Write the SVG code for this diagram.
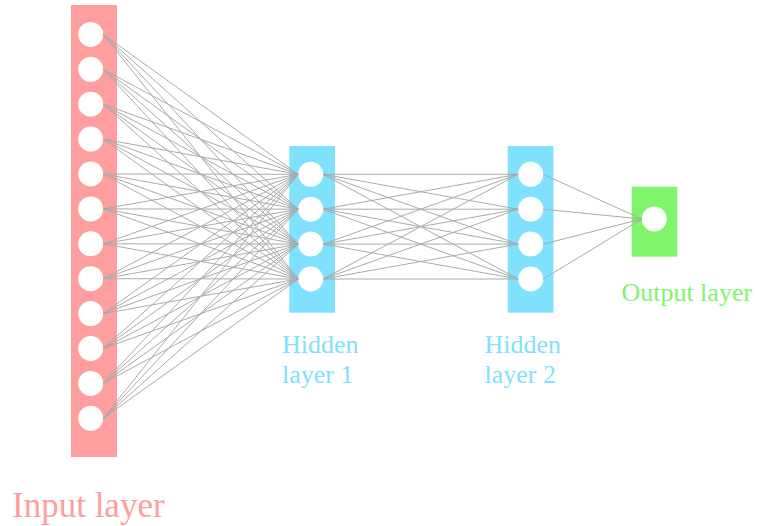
<svg xmlns="http://www.w3.org/2000/svg" width="757" height="526" viewBox="0 0 757 526">
<style>
.node{fill:#fff}
.in{fill:#ff9e9e}
.hid{fill:#80e1ff}
.out{fill:#80f56b}
.lbl{font-family:"Liberation Serif","Times New Roman",serif}
#connectors line{stroke:#aaaaaa;stroke-width:1}
</style>
<rect width="757" height="526" fill="#fff"/>
<g id="input-layer">
<rect class="in" x="71" y="5" width="46" height="452"/>
<circle class="node" cx="90.7" cy="34.4" r="12.5"/>
<circle class="node" cx="90.7" cy="69.3" r="12.5"/>
<circle class="node" cx="90.7" cy="104.2" r="12.5"/>
<circle class="node" cx="90.7" cy="139.1" r="12.5"/>
<circle class="node" cx="90.7" cy="174.0" r="12.5"/>
<circle class="node" cx="90.7" cy="208.9" r="12.5"/>
<circle class="node" cx="90.7" cy="243.8" r="12.5"/>
<circle class="node" cx="90.7" cy="278.7" r="12.5"/>
<circle class="node" cx="90.7" cy="313.6" r="12.5"/>
<circle class="node" cx="90.7" cy="348.5" r="12.5"/>
<circle class="node" cx="90.7" cy="383.4" r="12.5"/>
<circle class="node" cx="90.7" cy="418.3" r="12.5"/>
<text class="lbl" x="12" y="516.7" font-size="35" fill="#ff9e9e">Input layer</text>
</g>
<g id="hidden-layer-1">
<rect class="hid" x="289.3" y="146" width="45.7" height="166.7"/>
<circle class="node" cx="310.7" cy="174.3" r="12.5"/>
<circle class="node" cx="310.7" cy="209.2" r="12.5"/>
<circle class="node" cx="310.7" cy="244.1" r="12.5"/>
<circle class="node" cx="310.7" cy="279.0" r="12.5"/>
<text class="lbl" font-size="26" fill="#80e1ff"><tspan x="282" y="353.3">Hidden</tspan><tspan x="282" y="383.3">layer 1</tspan></text>
</g>
<g id="hidden-layer-2">
<rect class="hid" x="507.7" y="146" width="45.7" height="166.7"/>
<circle class="node" cx="530.7" cy="174.3" r="12.5"/>
<circle class="node" cx="530.7" cy="209.2" r="12.5"/>
<circle class="node" cx="530.7" cy="244.1" r="12.5"/>
<circle class="node" cx="530.7" cy="279.0" r="12.5"/>
<text class="lbl" font-size="26" fill="#80e1ff"><tspan x="484.5" y="353.3">Hidden</tspan><tspan x="484.5" y="383.3">layer 2</tspan></text>
</g>
<g id="output-layer">
<rect class="out" x="631.7" y="186.7" width="45.6" height="70"/>
<circle class="node" cx="654.3" cy="219" r="12.5"/>
<text class="lbl" x="621.4" y="300.7" font-size="26" fill="#80f56b">Output layer</text>
</g>
<g id="connectors">
<line x1="103.2" y1="34.4" x2="298.2" y2="174.3"/><line x1="103.2" y1="34.4" x2="298.2" y2="209.2"/><line x1="103.2" y1="34.4" x2="298.2" y2="244.1"/><line x1="103.2" y1="34.4" x2="298.2" y2="279.0"/>
<line x1="103.2" y1="69.3" x2="298.2" y2="174.3"/><line x1="103.2" y1="69.3" x2="298.2" y2="209.2"/><line x1="103.2" y1="69.3" x2="298.2" y2="244.1"/><line x1="103.2" y1="69.3" x2="298.2" y2="279.0"/>
<line x1="103.2" y1="104.2" x2="298.2" y2="174.3"/><line x1="103.2" y1="104.2" x2="298.2" y2="209.2"/><line x1="103.2" y1="104.2" x2="298.2" y2="244.1"/><line x1="103.2" y1="104.2" x2="298.2" y2="279.0"/>
<line x1="103.2" y1="139.1" x2="298.2" y2="174.3"/><line x1="103.2" y1="139.1" x2="298.2" y2="209.2"/><line x1="103.2" y1="139.1" x2="298.2" y2="244.1"/><line x1="103.2" y1="139.1" x2="298.2" y2="279.0"/>
<line x1="103.2" y1="174.0" x2="298.2" y2="174.3"/><line x1="103.2" y1="174.0" x2="298.2" y2="209.2"/><line x1="103.2" y1="174.0" x2="298.2" y2="244.1"/><line x1="103.2" y1="174.0" x2="298.2" y2="279.0"/>
<line x1="103.2" y1="208.9" x2="298.2" y2="174.3"/><line x1="103.2" y1="208.9" x2="298.2" y2="209.2"/><line x1="103.2" y1="208.9" x2="298.2" y2="244.1"/><line x1="103.2" y1="208.9" x2="298.2" y2="279.0"/>
<line x1="103.2" y1="243.8" x2="298.2" y2="174.3"/><line x1="103.2" y1="243.8" x2="298.2" y2="209.2"/><line x1="103.2" y1="243.8" x2="298.2" y2="244.1"/><line x1="103.2" y1="243.8" x2="298.2" y2="279.0"/>
<line x1="103.2" y1="278.7" x2="298.2" y2="174.3"/><line x1="103.2" y1="278.7" x2="298.2" y2="209.2"/><line x1="103.2" y1="278.7" x2="298.2" y2="244.1"/><line x1="103.2" y1="278.7" x2="298.2" y2="279.0"/>
<line x1="103.2" y1="313.6" x2="298.2" y2="174.3"/><line x1="103.2" y1="313.6" x2="298.2" y2="209.2"/><line x1="103.2" y1="313.6" x2="298.2" y2="244.1"/><line x1="103.2" y1="313.6" x2="298.2" y2="279.0"/>
<line x1="103.2" y1="348.5" x2="298.2" y2="174.3"/><line x1="103.2" y1="348.5" x2="298.2" y2="209.2"/><line x1="103.2" y1="348.5" x2="298.2" y2="244.1"/><line x1="103.2" y1="348.5" x2="298.2" y2="279.0"/>
<line x1="103.2" y1="383.4" x2="298.2" y2="174.3"/><line x1="103.2" y1="383.4" x2="298.2" y2="209.2"/><line x1="103.2" y1="383.4" x2="298.2" y2="244.1"/><line x1="103.2" y1="383.4" x2="298.2" y2="279.0"/>
<line x1="103.2" y1="418.3" x2="298.2" y2="174.3"/><line x1="103.2" y1="418.3" x2="298.2" y2="209.2"/><line x1="103.2" y1="418.3" x2="298.2" y2="244.1"/><line x1="103.2" y1="418.3" x2="298.2" y2="279.0"/>
<line x1="323.2" y1="174.3" x2="518.2" y2="174.3"/><line x1="323.2" y1="174.3" x2="518.2" y2="209.2"/><line x1="323.2" y1="174.3" x2="518.2" y2="244.1"/><line x1="323.2" y1="174.3" x2="518.2" y2="279.0"/>
<line x1="323.2" y1="209.2" x2="518.2" y2="174.3"/><line x1="323.2" y1="209.2" x2="518.2" y2="209.2"/><line x1="323.2" y1="209.2" x2="518.2" y2="244.1"/><line x1="323.2" y1="209.2" x2="518.2" y2="279.0"/>
<line x1="323.2" y1="244.1" x2="518.2" y2="174.3"/><line x1="323.2" y1="244.1" x2="518.2" y2="209.2"/><line x1="323.2" y1="244.1" x2="518.2" y2="244.1"/><line x1="323.2" y1="244.1" x2="518.2" y2="279.0"/>
<line x1="323.2" y1="279.0" x2="518.2" y2="174.3"/><line x1="323.2" y1="279.0" x2="518.2" y2="209.2"/><line x1="323.2" y1="279.0" x2="518.2" y2="244.1"/><line x1="323.2" y1="279.0" x2="518.2" y2="279.0"/>
<line x1="543.2" y1="174.3" x2="641.8" y2="219"/><line x1="543.2" y1="209.2" x2="641.8" y2="219"/><line x1="543.2" y1="244.1" x2="641.8" y2="219"/><line x1="543.2" y1="279.0" x2="641.8" y2="219"/>
</g>
</svg>
